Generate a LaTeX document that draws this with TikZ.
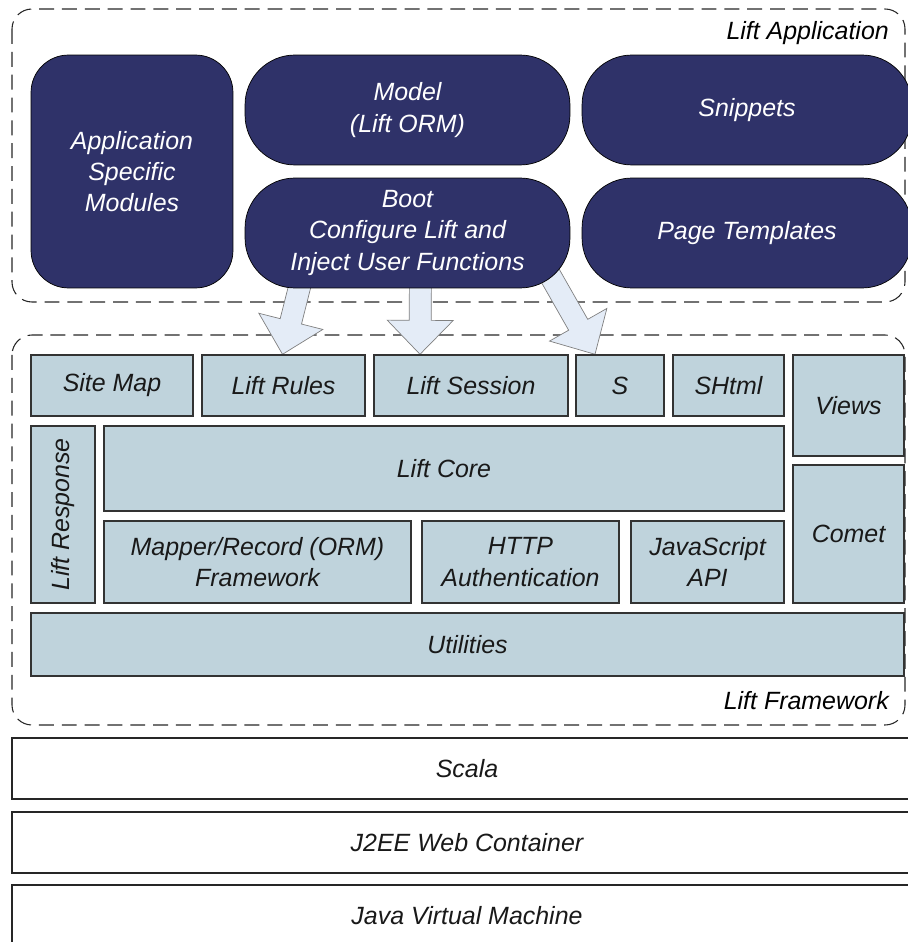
\documentclass[tikz,border=0pt]{standalone}
\usepackage{fontspec}
\setmainfont{Liberation Sans}
\usetikzlibrary{calc,backgrounds}
\definecolor{appblue}{RGB}{47,50,105}
\definecolor{fwgray}{RGB}{191,211,220}
\definecolor{arrowfill}{RGB}{228,236,247}

\newcommand{\fatarrow}[2]{%
  \coordinate (fa-s) at (#1);
  \coordinate (fa-t) at (#2);
  \coordinate (fa-b) at ($(fa-t)!0.68cm!(fa-s)$);
  \draw[arrowbody] ($(fa-s)!0.22cm!90:(fa-t)$) -- ($(fa-b)!0.22cm!90:(fa-t)$)
    -- ($(fa-b)!0.66cm!90:(fa-t)$) -- (fa-t) -- ($(fa-b)!0.66cm!-90:(fa-t)$)
    -- ($(fa-b)!0.22cm!-90:(fa-t)$) -- ($(fa-s)!0.22cm!-90:(fa-t)$) -- cycle;}

\begin{document}
\begin{tikzpicture}[x=0.02cm,y=-0.02cm,
    every node/.style={font=\fontsize{14.2}{17.8}\selectfont\itshape,align=center},
    appbox/.style={draw=black,fill=appblue,text=white,rounded corners=1cm,inner sep=0pt},
    fwbox/.style={draw=black!80,line width=0.8pt,fill=fwgray,text=black!90,inner sep=0pt},
    basebox/.style={draw=black!85,line width=0.9pt,fill=white,text=black!90,inner sep=0pt},
    layerframe/.style={draw=black!85,line width=0.6pt,dash pattern=on 8.5pt off 4.5pt,rounded corners=0.4cm},
    arrowbody/.style={draw=black!50,line width=0.4pt,fill=arrowfill}]
  \useasboundingbox (0,0) rectangle (907,942);

  \node[appbox,rounded corners=0.75cm,minimum width=4.04cm,minimum height=4.66cm] (appmod) at (132,171.5) {Application\\Specific\\Modules};
  \node[appbox,minimum width=6.5cm,minimum height=2.2cm] (model) at (407.5,110) {Model\\(Lift ORM)};
  \node[appbox,minimum width=6.5cm,minimum height=2.2cm] (boot) at (407.5,233) {Boot\\Configure Lift and\\Inject User Functions};
  \node[appbox,minimum width=6.6cm,minimum height=2.2cm] (snippets) at (747,110) {Snippets};
  \node[appbox,minimum width=6.6cm,minimum height=2.2cm] (pagetpl) at (747,233) {Page Templates};

  \node[fwbox,minimum width=3.24cm,minimum height=1.22cm] (sitemap) at (112,385.5) {Site Map};
  \node[fwbox,minimum width=3.26cm,minimum height=1.22cm] (liftrules) at (283.5,385.5) {Lift Rules};
  \node[fwbox,minimum width=3.88cm,minimum height=1.22cm] (liftsession) at (471,385.5) {Lift Session};
  \node[fwbox,minimum width=1.76cm,minimum height=1.22cm] (sobj) at (620,385.5) {S};
  \node[fwbox,minimum width=2.22cm,minimum height=1.22cm] (shtml) at (728.5,385.5) {SHtml};
  \node[fwbox,minimum width=2.22cm,minimum height=2.02cm] (views) at (848.5,405.5) {Views};
  \node[fwbox,minimum width=2.22cm,minimum height=2.76cm] (comet) at (848.5,534) {Comet};
  \node[fwbox,minimum width=3.54cm,minimum height=1.28cm,rotate=90] (liftresp) at (63,514.5) {Lift Response};
  \node[fwbox,minimum width=13.6cm,minimum height=1.7cm] (liftcore) at (444,468.5) {Lift Core};
  \node[fwbox,minimum width=6.14cm,minimum height=1.64cm] (mapper) at (257.5,562) {Mapper/Record (ORM)\\Framework};
  \node[fwbox,minimum width=3.94cm,minimum height=1.64cm] (httpauth) at (520.5,562) {HTTP\\Authentication};
  \node[fwbox,minimum width=3.06cm,minimum height=1.64cm] (jsapi) at (707.5,562) {JavaScript\\API};
  \node[fwbox,minimum width=17.46cm,minimum height=1.26cm] (utilities) at (467.5,644.5) {Utilities};

  \node[basebox,minimum width=18.2cm,minimum height=1.22cm] (scala) at (467,768.5) {Scala};
  \node[basebox,minimum width=18.2cm,minimum height=1.22cm] (j2ee) at (467,842.5) {J2EE Web Container};
  \node[basebox,minimum width=18.2cm,minimum height=1.22cm] (jvm) at (467,915.5) {Java Virtual Machine};

  \node[anchor=east] (applabel) at (895,33) {Lift Application};
  \node[anchor=east] (fwlabel) at (895,701) {Lift Framework};

  \begin{pgfonlayer}{background}
    \draw[layerframe] (12,9) rectangle (905,302);
    \draw[layerframe] (12,335) rectangle (905,725);
    \fatarrow{[shift={(-103,-21)}]boot.south}{[shift={(-1,0)}]liftrules.north}
    \fatarrow{[shift={(13,-23)}]boot.south}{[shift={(-51,0)}]liftsession.north}
    \fatarrow{[shift={(138,-21)}]boot.south}{[shift={(-25,0)}]sobj.north}
  \end{pgfonlayer}
\end{tikzpicture}
\end{document}
